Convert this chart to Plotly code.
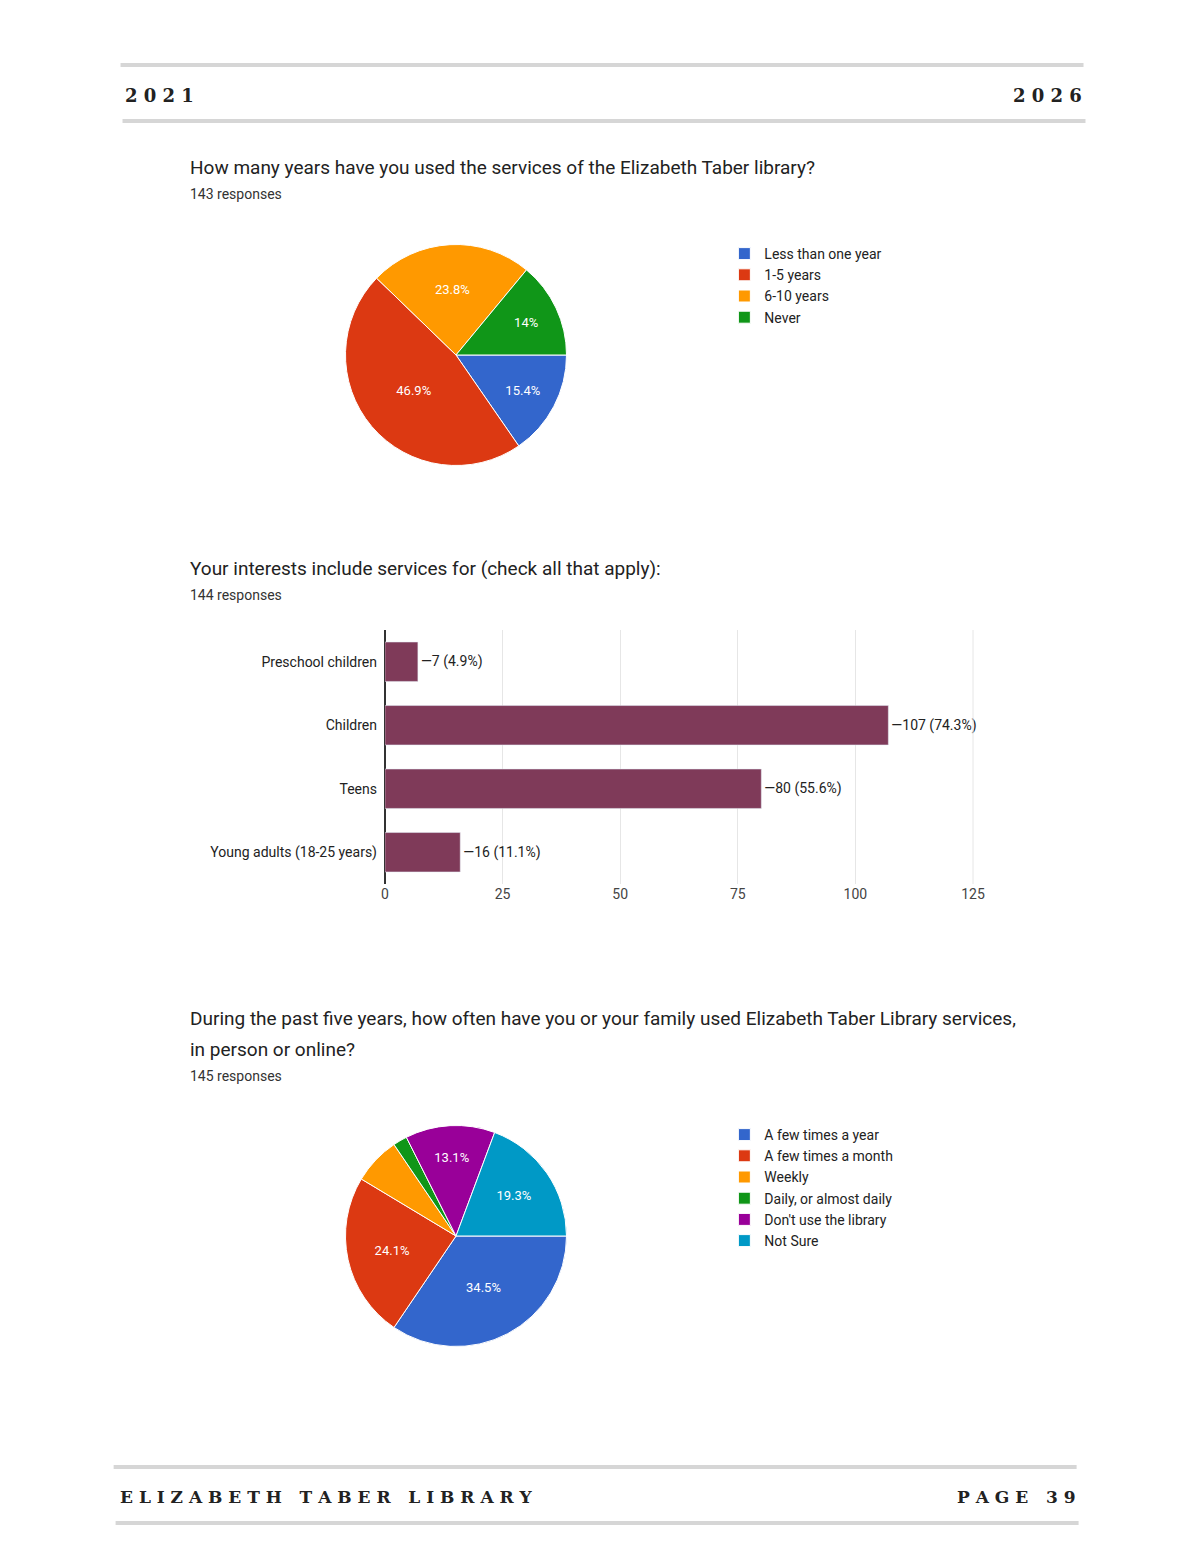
import plotly.graph_objects as go

W, H = 1200, 1553

# chart 1
years_labels = ['Less than one year', '1-5 years', '6-10 years', 'Never']
years_counts = [22, 67, 34, 20]
years_text = ['15.4%', '46.9%', '23.8%', '14%']

# chart 2
interest_labels = ['Preschool children', 'Children', 'Teens', 'Young adults (18-25 years)']
interest_counts = [7, 107, 80, 16]
interest_text = ['7 (4.9%)', '107 (74.3%)', '80 (55.6%)', '16 (11.1%)']

# chart 3
often_labels = ['A few times a year', 'A few times a month', 'Weekly',
                'Daily, or almost daily', "Don't use the library", 'Not Sure']
often_counts = [50, 35, 10, 3, 19, 28]
often_text = ['34.5%', '24.1%', '', '', '13.1%', '19.3%']

pie1_colors = ['#3366cc', '#dc3912', '#ff9900', '#109618']
pie3_colors = ['#3366cc', '#dc3912', '#ff9900', '#109618', '#990099', '#0099c6']

def px(v, total):
    return v / total

def py(v):
    return 1 - v / H

fig = go.Figure()

fig.add_trace(go.Pie(
    labels=years_labels, values=years_counts, text=years_text, textinfo='text',
    sort=False, direction='clockwise', rotation=90,
    marker=dict(colors=pie1_colors, line=dict(color='white', width=1)),
    textfont=dict(color='white', size=13), textposition='inside', insidetextorientation='horizontal',
    domain=dict(x=[px(338, W), px(562, W)], y=[py(459), py(235)]),
    legend='legend', hoverinfo='label+value'))

fig.add_trace(go.Bar(
    y=interest_labels, x=interest_counts, orientation='h',
    text=['—' + t for t in interest_text], textposition='outside', cliponaxis=False,
    textfont=dict(color='#222', size=14), marker_color='#7f3a59', width=0.62,
    showlegend=False, xaxis='x', yaxis='y'))

fig.add_trace(go.Pie(
    labels=often_labels, values=often_counts, text=often_text, textinfo='text',
    sort=False, direction='clockwise', rotation=90,
    marker=dict(colors=pie3_colors, line=dict(color='white', width=1)),
    textfont=dict(color='white', size=13), textposition='inside', insidetextorientation='horizontal',
    domain=dict(x=[px(338, W), px(562, W)], y=[py(1340), py(1116)]),
    legend='legend2', hoverinfo='label+value'))

base_font = dict(family='Roboto, Arial, sans-serif', color='#222')
legend_style = dict(font=dict(size=14, color='#222', family='Roboto, Arial'),
                    bgcolor='rgba(0,0,0,0)', itemwidth=30, tracegroupgap=0,
                    xanchor='left', yanchor='top')

fig.update_layout(
    width=W, height=H, margin=dict(l=0, r=0, t=0, b=0),
    paper_bgcolor='white', plot_bgcolor='white', font=base_font,
    legend=dict(x=px(722, W), y=py(230), **legend_style),
    legend2=dict(x=px(722, W), y=py(1111), **legend_style),
    xaxis=dict(domain=[px(378, W), px(974, W)], anchor='y', range=[0, 125],
               tickvals=[0, 25, 50, 75, 100, 125], showgrid=True, gridcolor='#e6e6e6',
               zeroline=True, zerolinecolor='#333', zerolinewidth=1.5,
               tickfont=dict(size=14, color='#444'), fixedrange=True, showline=False),
    yaxis=dict(domain=[py(876), py(622)], anchor='x', autorange='reversed',
               tickfont=dict(size=14, color='#222'), ticksuffix='  ', showgrid=False),
    bargap=0.38,
)

shapes = []
for y0, x0, x1 in [(57, 110, 1086), (113, 112, 1088), (1459, 103, 1079), (1515, 105, 1081)]:
    shapes.append(dict(type='line', xref='paper', yref='paper', x0=px(x0, W), x1=px(x1, W),
                       y0=py(y0), y1=py(y0), line=dict(color='#d6d6d6', width=4)))
# right border of bar chart
shapes.append(dict(type='line', xref='paper', yref='paper', x0=px(974, W), x1=px(974, W),
                   y0=py(876), y1=py(622), line=dict(color='#e6e6e6', width=1)))
fig.update_layout(shapes=shapes)

serif = 'DejaVu Serif, Liberation Serif, serif'
ann = [
    (113, 88, '<b>2 0 2 1</b>', 'left', dict(family=serif, size=18, color='#222')),
    (1086, 88, '<b>2 0 2 6</b>', 'right', dict(family=serif, size=18, color='#222')),
    (107, 1489, '<b>E L I Z A B E T H   T A B E R   L I B R A R Y</b>', 'left', dict(family=serif, size=17, color='#222')),
    (1080, 1489, '<b>P A G E   3 9</b>', 'right', dict(family=serif, size=17, color='#222')),
    (178, 159, 'How many years have you used the services of the Elizabeth Taber library?', 'left', dict(size=19, color='#222')),
    (178, 186, '143 responses', 'left', dict(size=14, color='#333')),
    (178, 560, 'Your interests include services for (check all that apply):', 'left', dict(size=19, color='#222')),
    (178, 587, '144 responses', 'left', dict(size=14, color='#333')),
    (178, 1011, 'During the past five years, how often have you or your family used Elizabeth Taber Library services,', 'left', dict(size=19, color='#222')),
    (178, 1041, 'in person or online?', 'left', dict(size=19, color='#222')),
    (178, 1068, '145 responses', 'left', dict(size=14, color='#333')),
]
fig.update_layout(annotations=[
    dict(x=px(x, W), y=py(y), xref='paper', yref='paper', text=t, showarrow=False,
         xanchor=a, yanchor='middle', font=f) for x, y, t, a, f in ann])

fig.write_html('out.html')
